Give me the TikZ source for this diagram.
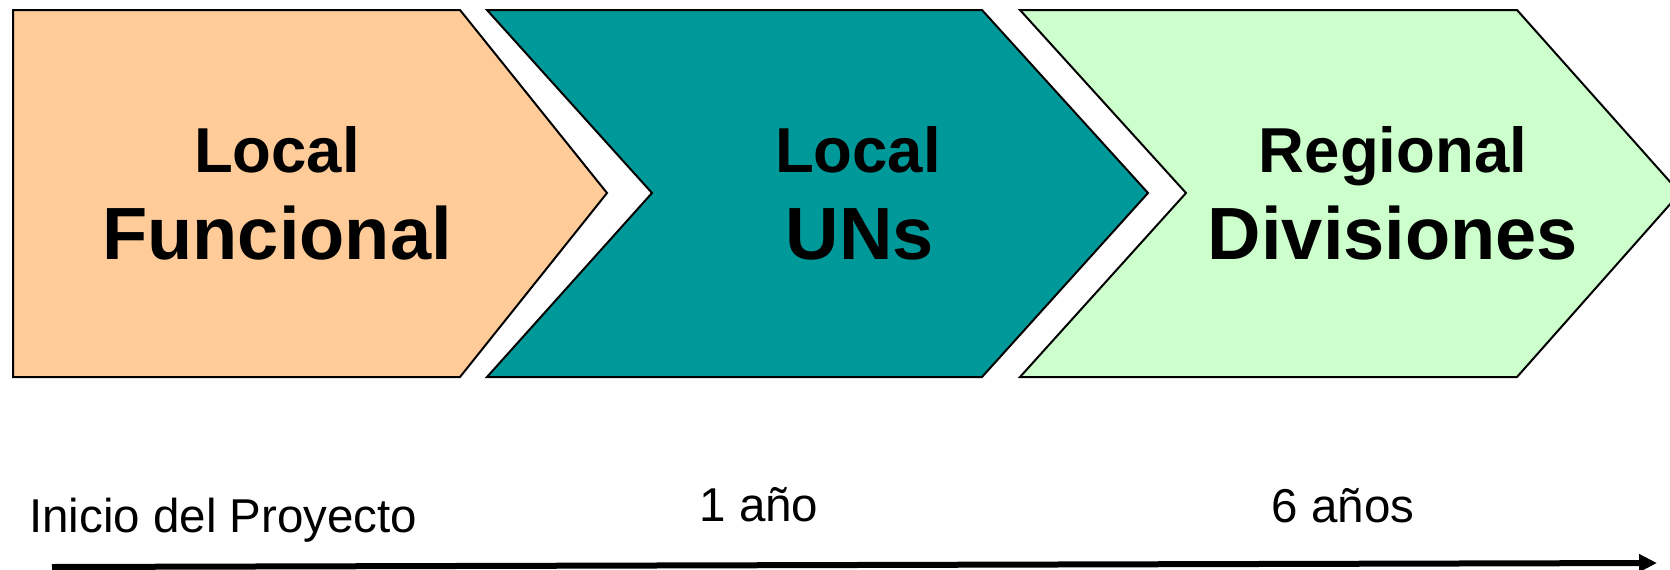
\documentclass[tikz,border=0pt]{standalone}
\usepackage{fontspec}
\setmainfont{Liberation Sans}
\usetikzlibrary{arrows.meta}
\definecolor{peach}{HTML}{FFCC99}
\definecolor{teal2}{HTML}{009999}
\definecolor{mint}{HTML}{CCFFCC}
\begin{document}
\begin{tikzpicture}[x=1pt,y=-1pt,
  chev/.style={draw=black,line width=2pt,line join=miter},
  small/.style={font=\fontsize{63.5}{63.5}\selectfont\bfseries,anchor=base,inner sep=0pt},
  big/.style={font=\fontsize{74}{74}\selectfont\bfseries,anchor=base,inner sep=0pt},
  lab/.style={font=\fontsize{47.5}{47.5}\selectfont,inner sep=0pt},
  timeline/.style={line width=6pt,-{Triangle[length=18pt,width=17pt]}}]
\useasboundingbox (0,0) rectangle (1670,570);
\clip (0,0) rectangle (1670,570);
% chevrons
\path[chev,fill=peach] (13,10) -- (460,10) -- (607,193) -- (460,377) -- (13,377) -- cycle;
\path[chev,fill=teal2] (487,10) -- (982,10) -- (1148,193) -- (982,377) -- (487,377) -- (652,193) -- cycle;
\path[chev,fill=mint] (1020,10) -- (1517,10) -- (1680,193) -- (1517,377) -- (1020,377) -- (1186,193) -- cycle;
% titles
\node[small] (t1a) at (277,172) {Local};
\node[big]   (t1b) at (277,259) {Funcional};
\node[small] (t2a) at (858,172) {Local};
\node[big]   (t2b) at (860,259) {UNs};
\node[small] (t3a) at (1393,172) {Regional};
\node[big]   (t3b) at (1393,259) {Divisiones};
% time labels
\node[lab,anchor=base west] (l0) at (29,532) {Inicio del Proyecto};
\node[lab,anchor=base] (l1) at (759,521) {1 año};
\node[lab,anchor=base] (l2) at (1343,522) {6 años};
% time arrow
\coordinate (a0) at (52,567);
\coordinate (a1) at (1657,563);
\draw[timeline] (a0) -- (a1);
\end{tikzpicture}
\end{document}
